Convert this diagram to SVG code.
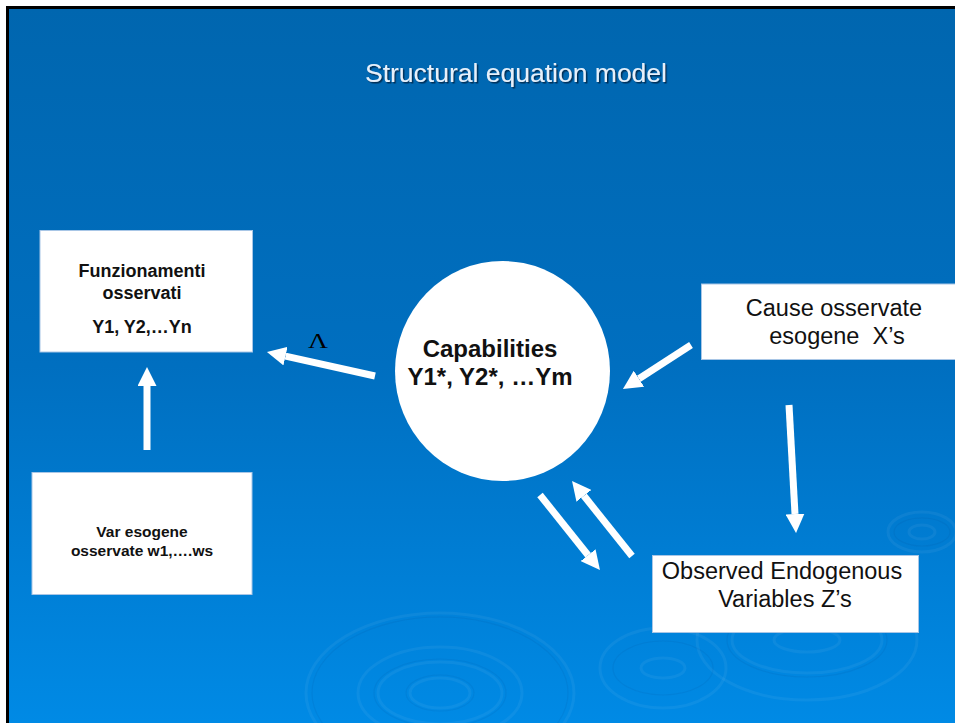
<svg xmlns="http://www.w3.org/2000/svg" width="955" height="723" viewBox="0 0 955 723">
<defs>
<linearGradient id="bg" x1="0" y1="0" x2="0" y2="1">
<stop offset="0" stop-color="#0066AF"/>
<stop offset="0.5" stop-color="#006FC0"/>
<stop offset="1" stop-color="#008AE5"/>
</linearGradient>
<filter id="sh" x="-10%" y="-30%" width="120%" height="160%">
<feDropShadow dx="1.5" dy="1.5" stdDeviation="0.4" flood-color="#00264d" flood-opacity="0.9"/>
</filter>
<marker id="ah" markerUnits="userSpaceOnUse" markerWidth="19" markerHeight="19" viewBox="0 0 19 19" refX="0" refY="9.5" orient="auto">
<path d="M0,0 L19,9.5 L0,19 Z" fill="#ffffff"/>
</marker>
</defs>
<style>
.box{fill:#ffffff;stroke:#a8c6e6;stroke-width:1}
.b{font-family:"Liberation Sans",Arial,sans-serif;font-weight:bold;fill:#111111;text-anchor:middle}
.n{font-family:"Liberation Sans",Arial,sans-serif;fill:#111111;text-anchor:middle;font-size:23.5px}
.arr{stroke:#ffffff;stroke-width:7;fill:none;marker-end:url(#ah)}
.rl{fill:none;stroke:#ffffff;stroke-opacity:0.05;stroke-width:3}
.rd{fill:none;stroke:#003f80;stroke-opacity:0.09;stroke-width:1.2}
</style>
<rect x="0" y="0" width="955" height="723" fill="#ffffff"/>
<rect x="6" y="6" width="949" height="717" fill="#000000"/>
<rect x="9" y="9" width="946" height="714" fill="url(#bg)"/>
<g id="ripples">
<ellipse class="rl" cx="440" cy="693" rx="30" ry="15"/>
<ellipse class="rd" cx="440" cy="693" rx="34" ry="18"/>
<ellipse class="rl" cx="440" cy="693" rx="62" ry="31"/>
<ellipse class="rd" cx="440" cy="693" rx="66" ry="34"/>
<ellipse class="rl" cx="440" cy="693" rx="82" ry="46"/>
<ellipse class="rl" cx="440" cy="693" rx="134" ry="80"/>
<ellipse class="rd" cx="440" cy="693" rx="128" ry="76"/>
<ellipse class="rl" cx="663" cy="668" rx="22" ry="10"/>
<ellipse class="rd" cx="663" cy="668" rx="50" ry="27"/>
<ellipse class="rl" cx="663" cy="668" rx="63" ry="40"/>
<ellipse class="rl" cx="807" cy="640" rx="33" ry="12"/>
<ellipse class="rl" cx="807" cy="640" rx="75" ry="33"/>
<ellipse class="rd" cx="807" cy="640" rx="80" ry="37"/>
<ellipse class="rl" cx="807" cy="640" rx="110" ry="60"/>
<ellipse class="rl" cx="922" cy="532" rx="13" ry="7"/>
<ellipse class="rd" cx="922" cy="532" rx="28" ry="14"/>
<ellipse class="rl" cx="922" cy="532" rx="34" ry="20"/>
</g>
<text id="title" x="516" y="82" font-family="'Liberation Sans',Arial,sans-serif" font-size="26.5" fill="#e6f0fb" text-anchor="middle" filter="url(#sh)">Structural equation model</text>
<g id="connectors">
<line class="arr" x1="375" y1="376" x2="285.5" y2="356.1"/>
<line class="arr" x1="147" y1="450" x2="147" y2="386"/>
<line class="arr" x1="691" y1="345" x2="638.9" y2="378.7"/>
<line class="arr" x1="789" y1="405" x2="795" y2="514"/>
<line class="arr" x1="540" y1="495" x2="588.1" y2="555.2"/>
<line class="arr" x1="632" y1="556" x2="583.9" y2="495.8"/>
<text x="308" y="348" font-family="'Liberation Serif','Times New Roman',serif" font-size="20" fill="#000000" textLength="20" lengthAdjust="spacingAndGlyphs">Λ</text>
</g>
<g id="funzionamenti">
<rect class="box" x="40" y="230.5" width="212.5" height="121.5"/>
<text class="b" font-size="18" x="142" y="277">Funzionamenti</text>
<text class="b" font-size="18" x="142" y="299">osservati</text>
<text class="b" font-size="18" x="142" y="333">Y1, Y2,…Yn</text>
</g>
<g id="capabilities">
<ellipse cx="502.5" cy="371" rx="107.5" ry="110" fill="#ffffff"/>
<text class="b" font-size="24" x="490" y="357">Capabilities</text>
<text class="b" font-size="24" x="490" y="385">Y1*, Y2*, …Ym</text>
</g>
<g id="var-esogene">
<rect class="box" x="32" y="472.5" width="220" height="122"/>
<text class="b" font-size="15.5" x="142" y="537">Var esogene</text>
<text class="b" font-size="15.5" x="142" y="556">osservate w1,….ws</text>
</g>
<g id="cause">
<rect class="box" x="701.5" y="284" width="260" height="75.5"/>
<text class="n" x="834" y="316">Cause osservate</text>
<text class="n" x="837" y="344" xml:space="preserve">esogene  X’s</text>
</g>
<g id="observed">
<rect class="box" x="652.5" y="555.5" width="266" height="77"/>
<text class="n" x="782" y="579">Observed Endogenous</text>
<text class="n" x="785" y="607">Variables Z’s</text>
</g>
</svg>
